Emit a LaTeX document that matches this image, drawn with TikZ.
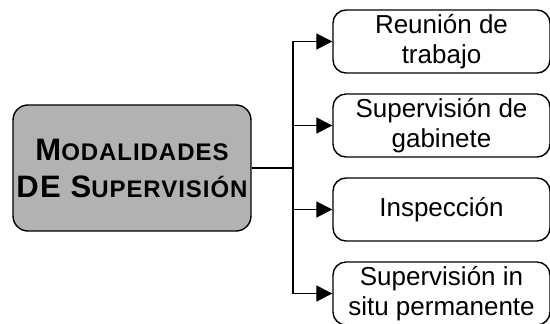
\documentclass[tikz,border=0pt]{standalone}
\usepackage{fontspec}
\setmainfont{Liberation Sans}
\usetikzlibrary{shapes, arrows.meta}

\newcommand{\bigsmall}[2]{{\fontsize{31}{37}\selectfont #1}{\fontsize{24}{37}\selectfont #2}}

\tikzstyle{mainbox} = [rectangle, rounded corners=15pt, minimum width=238pt, minimum height=126pt, text centered, align=center, draw=black, line width=1.4pt, fill=black!30, font=\fontsize{24}{37}\selectfont\bfseries\addfontfeature{LetterSpace=4}]
\tikzstyle{option} = [rectangle, rounded corners=13pt, minimum width=217pt, minimum height=63pt, text centered, align=center, draw=black, line width=1.4pt, fill=white, font=\fontsize{26}{30}\selectfont]
\tikzstyle{line} = [line width=1.4pt]
\tikzstyle{edge} = [line width=1.4pt, -{Triangle[length=16pt, width=16pt]}]

\begin{document}
\begin{tikzpicture}[node distance=84pt]

\useasboundingbox (-132pt,-156pt) rectangle (418pt,168pt);

\node (main) [mainbox] at (0,0) {\bigsmall{M}{ODALIDADES}\\\bigsmall{DE S}{UPERVISIÓN}};
\node (1) [option] at (309.5pt,126.5pt) {Reunión de\\trabajo};
\node (2) [option, below of=1] {Supervisión de\\gabinete};
\node (3) [option, below of=2] {Inspección};
\node (4) [option, below of=3] {Supervisión in\\situ permanente};

\coordinate (split) at (161pt,0);

\draw [line] (main) -- (split);
\draw [edge] (split) |- (1);
\draw [edge] (split) |- (2);
\draw [edge] (split) |- (3);
\draw [edge] (split) |- (4);

\end{tikzpicture}
\end{document}
